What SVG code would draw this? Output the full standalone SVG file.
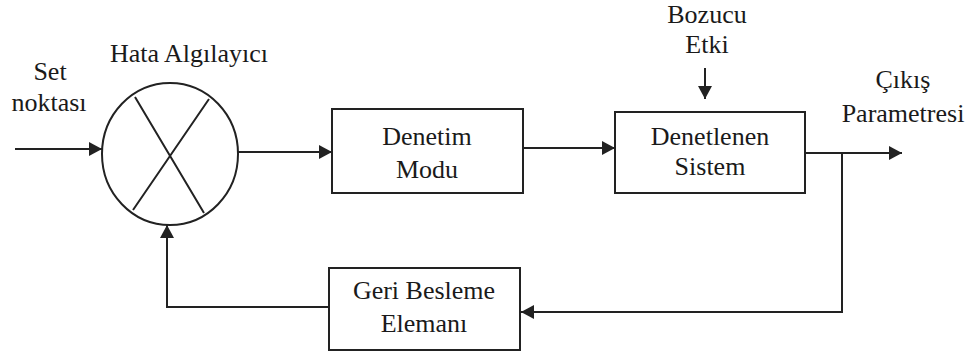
<svg xmlns="http://www.w3.org/2000/svg" width="974" height="360" viewBox="0 0 974 360">
<style>
text{font-family:'Liberation Serif','Times New Roman',Times,serif;font-size:26px;fill:#1a1a1a;text-anchor:middle}
.shape{fill:#fff;stroke:#222;stroke-width:2}
.line{fill:none;stroke:#222;stroke-width:2}
</style>
<defs>
<marker id="arr" markerUnits="userSpaceOnUse" markerWidth="14" markerHeight="14" refX="13" refY="7" orient="auto">
<path d="M0,0 L13,7 L0,14 z" fill="#222"/>
</marker>
</defs>
<rect width="974" height="360" fill="#fff"/>
<g id="connectors">
<path class="line" d="M15,149 H102" marker-end="url(#arr)"/>
<path class="line" d="M237,152 H332" marker-end="url(#arr)"/>
<path class="line" d="M523,148 H615" marker-end="url(#arr)"/>
<path class="line" d="M805,153 H902" marker-end="url(#arr)"/>
<path class="line" d="M705,68 V99" marker-end="url(#arr)"/>
<path class="line" d="M842,153 V312 H521" marker-end="url(#arr)"/>
<path class="line" d="M329,307 H167 V225" marker-end="url(#arr)"/>
</g>
<g id="hata">
<ellipse class="shape" cx="170" cy="154" rx="68" ry="71"/>
<path class="line" d="M135,97 L204,213 M209,99 L133,210"/>
<text x="189" y="62">Hata Algılayıcı</text>
</g>
<g id="set">
<text x="50" y="80">Set</text>
<text x="49" y="111">noktası</text>
</g>
<g id="denetim">
<rect class="shape" x="332" y="109" width="191" height="84"/>
<text x="427" y="145">Denetim</text>
<text x="427" y="178">Modu</text>
</g>
<g id="denetlenen">
<rect class="shape" x="615" y="112" width="190" height="81"/>
<text x="710" y="145">Denetlenen</text>
<text x="710" y="175">Sistem</text>
</g>
<g id="bozucu">
<text x="707" y="23">Bozucu</text>
<text x="707" y="53">Etki</text>
</g>
<g id="cikis">
<text x="903" y="88">Çıkış</text>
<text x="903" y="122">Parametresi</text>
</g>
<g id="geri">
<rect class="shape" x="329" y="268" width="191" height="82"/>
<text x="424" y="299">Geri Besleme</text>
<text x="424" y="332">Elemanı</text>
</g>
</svg>
